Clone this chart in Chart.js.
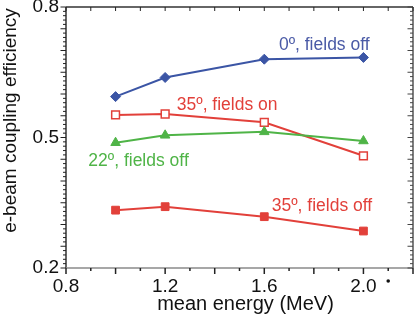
<!DOCTYPE html>
<html>
<head>
<meta charset="utf-8">
<script src="https://cdn.jsdelivr.net/npm/chart.js@4.4.0/dist/chart.umd.min.js"></script>
<style>body{margin:0;background:#fff}</style>
</head>
<body>
<canvas id="plot" width="415" height="319"></canvas>
<script>
// values
const energies = [1.0, 1.2, 1.6, 2.0];
const deg0Off = [0.594, 0.638, 0.680, 0.684];
const deg35On = [0.552, 0.554, 0.535, 0.458];
const deg22Off = [0.488, 0.505, 0.513, 0.492];
const deg35Off = [0.333, 0.341, 0.318, 0.285];
const seriesNames = ['0º, fields off', '35º, fields on', '22º, fields off', '35º, fields off'];
const xTickLabels = [0.8, 1.2, 1.6, 2.0];
const yTickLabels = [0.2, 0.5, 0.8];

const BLUE = '#3b55a5', RED = '#e2403a', GREEN = '#4fb447';
const FONT = 'Liberation Sans, Arial, sans-serif';

function toPts(ys){
    return energies.map((x, i) => ({x: x, y: ys[i]}));
}

function noPad(s){
    s.paddingLeft = 0; s.paddingRight = 0; s.paddingTop = 0; s.paddingBottom = 0;
}

// where the in-plot labels sit (data units: left edge, baseline)
const labelSpots = [
    {x: 1.659, y: 0.701, color: '#4a5aa6'},
    {x: 1.247, y: 0.563, color: RED},
    {x: 0.890, y: 0.4345, color: GREEN},
    {x: 1.630, y: 0.331, color: RED}
];

const framePlugin = {
    id: 'frame',
    afterDraw(chart){
        const ctx = chart.ctx;
        const a = chart.chartArea;
        const xs = chart.scales.x, ys = chart.scales.y;
        ctx.save();
        ctx.lineWidth = 1.5;
        // frame
        ctx.strokeStyle = '#333';
        ctx.beginPath(); ctx.moveTo(a.left, a.top); ctx.lineTo(a.right, a.top); ctx.stroke();
        ctx.beginPath(); ctx.moveTo(a.left, a.top); ctx.lineTo(a.left, a.bottom); ctx.stroke();
        ctx.strokeStyle = '#555';
        ctx.beginPath(); ctx.moveTo(a.right, a.top); ctx.lineTo(a.right, a.bottom); ctx.stroke();
        ctx.strokeStyle = '#8a8a8a';
        ctx.beginPath(); ctx.moveTo(a.left, a.bottom); ctx.lineTo(a.right, a.bottom); ctx.stroke();

        // y ticks: left outward, right inward
        ctx.lineWidth = 1;
        for (let k = 20; k <= 80; k++){
            const y = ys.getPixelForValue(k / 100);
            const len = (k % 5 === 0) ? 5.5 : 3;
            ctx.strokeStyle = '#222';
            ctx.beginPath(); ctx.moveTo(a.left - len, y); ctx.lineTo(a.left, y); ctx.stroke();
            ctx.strokeStyle = '#444';
            ctx.beginPath(); ctx.moveTo(a.right - len, y); ctx.lineTo(a.right, y); ctx.stroke();
        }
        // x ticks: bottom outward, top inward
        for (let k = 8; k <= 22; k++){
            const x = xs.getPixelForValue(k / 10);
            const len = (k % 2 === 0) ? 6 : 3;
            ctx.strokeStyle = '#222';
            ctx.lineWidth = 1.5;
            ctx.beginPath(); ctx.moveTo(x, a.bottom); ctx.lineTo(x, a.bottom + len); ctx.stroke();
            ctx.lineWidth = 1;
            ctx.beginPath(); ctx.moveTo(x, a.top); ctx.lineTo(x, a.top + 4); ctx.stroke();
        }

        // stray dot under the axis
        ctx.fillStyle = '#111';
        ctx.beginPath();
        ctx.arc(xs.getPixelForValue(2.1), a.bottom + 13, 1.8, 0, Math.PI * 2);
        ctx.fill();

        // axis titles
        ctx.fillStyle = '#111';
        ctx.font = '20px ' + FONT;
        ctx.textAlign = 'center';
        ctx.textBaseline = 'middle';
        ctx.fillText('mean energy (MeV)', (a.left + a.right) / 2 + 6, a.bottom + 36);
        ctx.save();
        ctx.translate(11, (a.top + a.bottom) / 2 - 17);
        ctx.rotate(-Math.PI / 2);
        ctx.font = '19px ' + FONT;
        ctx.fillText('e-beam coupling efficiency', 0, 0);
        ctx.restore();

        // series labels
        ctx.font = '17.5px ' + FONT;
        ctx.textAlign = 'left';
        ctx.textBaseline = 'alphabetic';
        labelSpots.forEach((s, i) => {
            ctx.fillStyle = s.color;
            ctx.fillText(seriesNames[i], xs.getPixelForValue(s.x), ys.getPixelForValue(s.y));
        });
        ctx.restore();
    }
};

const ctx = document.getElementById('plot').getContext('2d');
const myChart = new Chart(ctx, {
    type: 'line',
    data: {
        datasets: [
            {
                label: seriesNames[2], data: toPts(deg22Off),
                borderColor: GREEN, backgroundColor: GREEN, borderWidth: 2,
                pointStyle: 'triangle', pointRadius: 5.5, pointBorderWidth: 1
            },
            {
                label: seriesNames[0], data: toPts(deg0Off),
                borderColor: BLUE, backgroundColor: BLUE, borderWidth: 2,
                pointStyle: 'rectRot', pointRadius: 5, pointBorderWidth: 1
            },
            {
                label: seriesNames[1], data: toPts(deg35On),
                borderColor: RED, backgroundColor: '#fff', borderWidth: 2,
                pointStyle: 'rect', pointRadius: 5.5, pointBorderWidth: 1.5
            },
            {
                label: seriesNames[3], data: toPts(deg35Off),
                borderColor: RED, backgroundColor: RED, borderWidth: 2,
                pointStyle: 'rect', pointRadius: 5.5, pointBorderWidth: 1
            }
        ]
    },
    options: {
        responsive: false,
        animation: false,
        layout: {autoPadding: false, padding: {top: 7, right: 2, left: 0, bottom: 0}},
        plugins: {legend: {display: false}, tooltip: {enabled: false}},
        scales: {
            x: {
                type: 'linear', min: 0.8, max: 2.2,
                grid: {display: false, drawTicks: false},
                border: {display: false},
                afterBuildTicks: s => { s.ticks = xTickLabels.map(v => ({value: v})); },
                afterFit: s => { s.height = 51; noPad(s); },
                ticks: {
                    padding: 7, color: '#111', font: {family: FONT, size: 19},
                    callback: v => v.toFixed(1)
                }
            },
            y: {
                type: 'linear', min: 0.2, max: 0.8,
                grid: {display: false, drawTicks: false},
                border: {display: false},
                afterBuildTicks: s => { s.ticks = yTickLabels.map(v => ({value: v})); },
                afterFit: s => { s.width = 66; noPad(s); },
                ticks: {
                    padding: 7, color: '#111', font: {family: FONT, size: 19},
                    callback: v => v.toFixed(1)
                }
            }
        }
    },
    plugins: [framePlugin]
});
</script>
</body>
</html>
